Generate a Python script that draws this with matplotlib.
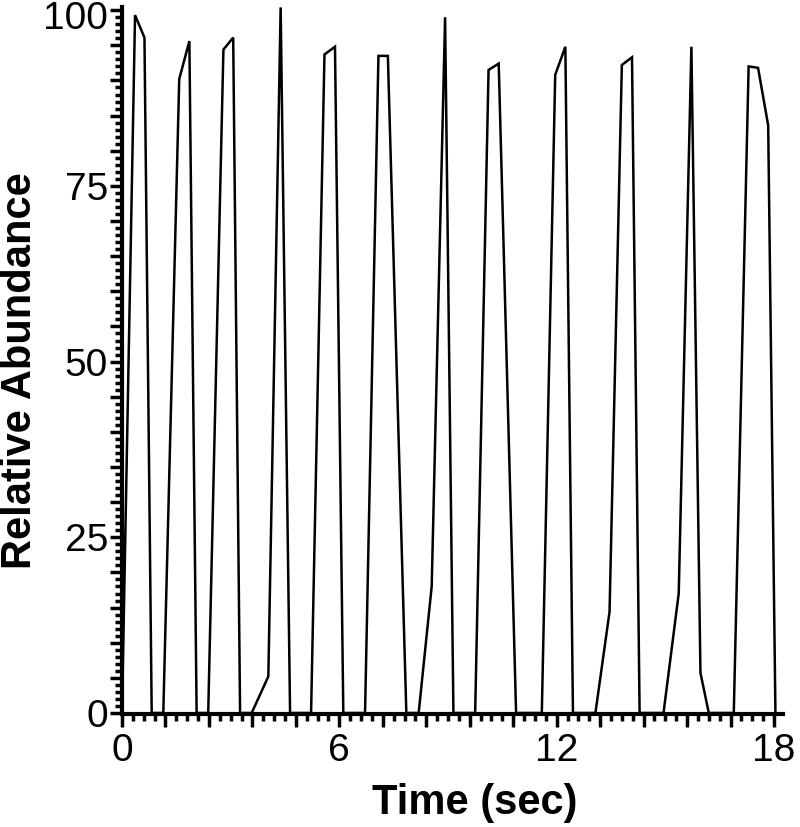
import matplotlib
matplotlib.use("Agg")
import matplotlib.pyplot as plt
import matplotlib.transforms as mtransforms
from matplotlib.ticker import MultipleLocator

plt.rcParams['font.family'] = ['Liberation Sans', 'DejaVu Sans']

# Time (sec) and relative abundance
time_sec = [0.00, 0.36, 0.62, 0.82,
            1.14, 1.58, 1.86, 2.06,
            2.38, 2.80, 3.07, 3.26,
            3.58, 4.04, 4.38, 4.64,
            5.22, 5.59, 5.88, 6.11,
            6.71, 7.08, 7.34, 7.85,
            8.19, 8.55, 8.92, 9.15,
            9.75, 10.12, 10.40, 10.88,
            11.59, 11.96, 12.24, 12.45,
            13.07, 13.46, 13.80, 14.08, 14.29,
            14.95, 15.37, 15.72, 15.97, 16.20,
            16.89, 17.30, 17.56, 17.84, 18.04]
abundance = [0.0, 99.3, 96.1, 0.0,
             0.0, 90.2, 95.6, 0.0,
             0.0, 94.4, 96.1, 0.0,
             0.0, 5.2, 100.4, 0.0,
             0.0, 93.7, 94.8, 0.0,
             0.0, 93.5, 93.5, 0.0,
             0.0, 18.0, 99.0, 0.0,
             0.0, 91.5, 92.4, 0.0,
             0.0, 90.8, 94.8, 0.0,
             0.0, 14.4, 92.2, 93.3, 0.0,
             0.0, 17.0, 94.8, 5.7, 0.0,
             0.0, 92.0, 91.8, 83.6, 0.0]

x_tick_labels = [0, 6, 12, 18]
y_tick_labels = [0, 25, 50, 75, 100]

fig = plt.figure(figsize=(8.0, 8.27), dpi=100)
ax = fig.add_axes([0.1525, 0.1366, 0.9788 - 0.1525, 0.9915 - 0.1366])

ax.plot(time_sec, abundance, color='black', linewidth=1.8, solid_joinstyle='miter')

ax.set_xlim(0, 18.25)
ax.set_ylim(-0.15, 100.45)

ax.spines['top'].set_visible(False)
ax.spines['right'].set_visible(False)
ax.spines['left'].set_linewidth(3)
ax.spines['bottom'].set_linewidth(3)

# x ticks: labels at 0, 6, 12, 18; major every 1.2, minor every 0.3
ax.xaxis.set_minor_locator(MultipleLocator(0.3))
xt = [i * 1.2 for i in range(16)]
ax.set_xticks(xt)
ax.set_xticklabels([str(int(round(v))) if round(v, 6) in x_tick_labels else '' for v in xt])
ax.yaxis.set_minor_locator(MultipleLocator(1))
yt = list(range(0, 101, 5))
ax.set_yticks(yt)
ax.set_yticklabels([str(v) if v in y_tick_labels else '' for v in yt])

ax.tick_params(axis='both', which='major', direction='out', length=9, width=2.5,
               labelsize=28, pad=5, color='black')
ax.tick_params(axis='y', which='major', pad=1)
ax.tick_params(axis='both', which='minor', direction='out', length=5, width=2.5, color='black')

# nudge the top "100" label down slightly so it stays inside the canvas
top_lbl = ax.get_yticklabels()[-1]
top_lbl.set_transform(top_lbl.get_transform() +
                      mtransforms.ScaledTranslation(0, -5 / 100, fig.dpi_scale_trans))

ax.set_xlabel('Time (sec)', fontsize=30, fontweight='bold', labelpad=10)
ax.set_ylabel('Relative Abundance', fontsize=30, fontweight='bold', labelpad=2)
ax.xaxis.label.set_x(0.533)
ax.yaxis.label.set_y(0.486)

fig.savefig('out.png', dpi=100)
